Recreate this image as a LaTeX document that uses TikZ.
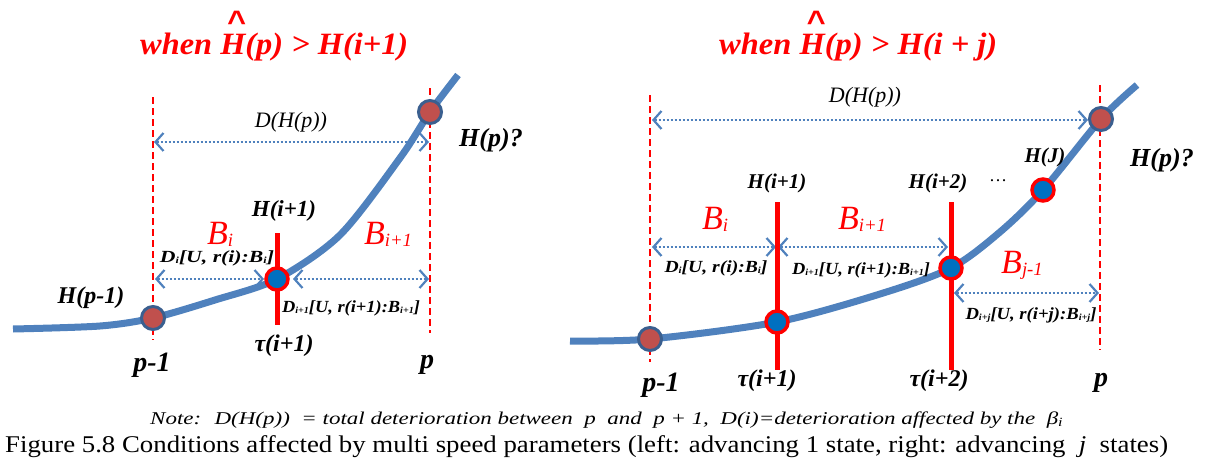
\documentclass[tikz,border=0pt]{standalone}
\usepackage{fontspec}
\setmainfont{Liberation Serif}
\newfontfamily\arialf{Liberation Sans}
\usepackage{graphicx}
\usetikzlibrary{arrows.meta}
\definecolor{cblue}{HTML}{4F81BD}
\definecolor{dotred}{HTML}{C0504D}
\definecolor{dotrim}{HTML}{3A5F8F}
\definecolor{dotblue}{HTML}{0070C0}
\newcommand{\fs}[1]{\fontsize{#1}{#1}\selectfont}
\newcommand{\wbox}[2]{\resizebox{#1}{\height}{#2}}
\newcommand{\sbs}[1]{\raisebox{-0.06em}{\scalebox{0.55}{#1}}}
% H with a high caret above it (caret smashed so it does not enlarge the box)
\newcommand{\hatH}{\rlap{\hspace{0.2em}\smash{\raisebox{0.7em}{\arialf\bfseries\textasciicircum}}}H}
\tikzset{
  curve/.style={cblue, line width=7pt, line cap=butt},
  rdot/.style={circle, fill=dotred, draw=dotrim, line width=3pt, minimum size=23pt, inner sep=0},
  bdot/.style={circle, fill=dotblue, draw=red, line width=3.5pt, minimum size=22pt, inner sep=0},
  vdash/.style={red, line width=2pt, dash pattern=on 7pt off 4pt},
  vsolid/.style={red, line width=5pt},
  barb/.tip={Straight Barb[length=8pt,width=18pt,line width=2.2pt]},
  darr/.style={cblue, line width=2.7pt, dash pattern=on 2.2pt off 1.8pt, barb-barb},
  ttl/.style={inner sep=0, text=red, font=\fs{31}\bfseries\itshape, anchor=west},
  blbl/.style={inner sep=0, text=red, font=\fs{34}\itshape},
  dtxt/.style={inner sep=0, font=\fs{17}\bfseries\itshape},
  bi/.style={inner sep=0, font=\bfseries\itshape},
}
\begin{document}
\begin{tikzpicture}[x=1pt,y=-1pt]
\useasboundingbox (0,0) rectangle (1213,463);

% ---------------- LEFT PANEL ----------------
\node[ttl] (Lttl) at (140,47) {\wbox{268pt}{when \hatH(p) > H(i+1)}};

\coordinate (Ld1t) at (153,97);  \coordinate (Ld1b) at (153,340);
\coordinate (Ld2t) at (430,88);  \coordinate (Ld2b) at (430,333);
\draw[vdash] (Ld1t) -- (Ld1b);
\draw[vdash] (Ld2t) -- (Ld2b);

\coordinate (La1l) at (154,142); \coordinate (La1r) at (429,142);
\coordinate (La2l) at (155,279); \coordinate (La2r) at (264,279);
\coordinate (La3l) at (293,279); \coordinate (La3r) at (429,279);
\draw[darr] (La1l) -- (La1r);
\draw[darr] (La2l) -- (La2r);
\draw[darr] (La3l) -- (La3r);

\draw[curve] plot[smooth, tension=0.5] coordinates {(13,329) (100,326) (153,318) (215,300) (277,279) (340,235) (400,158) (430,112) (458,75)};

\coordinate (Ls1t) at (277,233); \coordinate (Ls1b) at (277,325);
\draw[vsolid] (Ls1t) -- (Ls1b);

\node[rdot] (Lpm) at (153,318) {};
\node[bdot] (Lt1) at (277,279) {};
\node[rdot] (LHp) at (430,112) {};

\node[inner sep=0, font=\fs{22}\itshape] (LD) at (291,122) {D(H(p))};
\node[bi, font=\fs{26}\bfseries\itshape] (LHq) at (491,140) {H(p)?};
\node[bi, font=\fs{23}\bfseries\itshape] (LHi1) at (284,211) {H(i+1)};
\node[blbl] (LBi) at (220,234) {B\sbs{i}};
\node[blbl] (LBi1) at (388,234) {B\sbs{i+1}};
\node[dtxt] (LDi) at (217,258) {\wbox{114pt}{D\sbs{i}[U, r(i):B\sbs{i}]}};
\node[dtxt] (LDi1) at (351,308) {\wbox{138pt}{D\sbs{i+1}[U, r(i+1):B\sbs{i+1}]}};
\node[bi, font=\fs{24}\bfseries\itshape] (LHpm) at (91,298) {H(p-1)};
\node[bi, font=\fs{24}\bfseries\itshape] (Ltau) at (284,346) {τ(i+1)};
\node[bi, font=\fs{28}\bfseries\itshape] (Lpm1) at (152,365) {p-1};
\node[bi, font=\fs{28}\bfseries\itshape] (Lp) at (427,365) {p};

% ---------------- RIGHT PANEL ----------------
\node[ttl] (Rttl) at (719,47) {\wbox{278pt}{when \hatH(p) > H(i + j)}};

\coordinate (Rd1t) at (650,95);  \coordinate (Rd1b) at (650,362);
\coordinate (Rd2t) at (1100,85); \coordinate (Rd2b) at (1100,350);
\draw[vdash] (Rd1t) -- (Rd1b);
\draw[vdash] (Rd2t) -- (Rd2b);

\coordinate (Ra1l) at (652,120); \coordinate (Ra1r) at (1088,120);
\coordinate (Ra2l) at (652,247); \coordinate (Ra2r) at (776,247);
\coordinate (Ra3l) at (778,247); \coordinate (Ra3r) at (948,247);
\coordinate (Ra4l) at (954,293); \coordinate (Ra4r) at (1099,293);
\draw[darr] (Ra1l) -- (Ra1r);
\draw[darr] (Ra2l) -- (Ra2r);
\draw[darr] (Ra3l) -- (Ra3r);
\draw[darr] (Ra4l) -- (Ra4r);

\draw[curve] plot[smooth, tension=0.5] coordinates {(570,341) (650,339) (777,322) (880,294) (951,268) (1000,232) (1043,190) (1101,119) (1137,85)};

\coordinate (Rs1t) at (777,202); \coordinate (Rs1b) at (777,370);
\coordinate (Rs2t) at (951,202); \coordinate (Rs2b) at (951,370);
\draw[vsolid] (Rs1t) -- (Rs1b);
\draw[vsolid] (Rs2t) -- (Rs2b);

\node[rdot] (Rpm) at (650,339) {};
\node[bdot] (Rt1) at (777,322) {};
\node[bdot] (Rt2) at (951,268) {};
\node[bdot] (RHJ) at (1043,190) {};
\node[rdot] (RHp) at (1101,119) {};

\node[inner sep=0, font=\fs{22}\itshape] (RD) at (865,97) {D(H(p))};
\node[bi, font=\fs{26}\bfseries\itshape] (RHq) at (1162,160) {H(p)?};
\node[bi, font=\fs{21}\bfseries\itshape] (RHJl) at (1045,157) {H(J)};
\node[bi, font=\fs{21}\bfseries\itshape] (RHi1) at (777,183) {H(i+1)};
\node[bi, font=\fs{21}\bfseries\itshape] (RHi2) at (938,183) {H(i+2)};
\node[inner sep=0, font=\fs{18}] (Rdots) at (998,181) {…};
\node[blbl] (RBi) at (715,219) {B\sbs{i}};
\node[blbl] (RBi1) at (862,219) {B\sbs{i+1}};
\node[blbl] (RBj) at (1022,265) {B\sbs{j-1}};
\node[dtxt] (RDi) at (716,268) {\wbox{103pt}{D\sbs{i}[U, r(i):B\sbs{i}]}};
\node[dtxt] (RDi1) at (861,270) {\wbox{138pt}{D\sbs{i+1}[U, r(i+1):B\sbs{i+1}]}};
\node[dtxt] (RDij) at (1031,315) {\wbox{131pt}{D\sbs{i+j}[U, r(i+j):B\sbs{i+j}]}};
\node[bi, font=\fs{24}\bfseries\itshape] (Rtau1) at (767,381) {τ(i+1)};
\node[bi, font=\fs{24}\bfseries\itshape] (Rtau2) at (939,381) {τ(i+2)};
\node[bi, font=\fs{28}\bfseries\itshape] (Rpm1) at (661,385) {p-1};
\node[bi, font=\fs{28}\bfseries\itshape] (Rp) at (1101,383) {p};

% ---------------- CAPTIONS ----------------
\node[inner sep=0, font=\fs{18}\itshape, anchor=west] (note) at (150,420) {\wbox{913pt}{Note:~ D(H(p))~ = total deterioration between~ p~ and~ p + 1,~ D(i)=deterioration affected by the~ β\textsubscript{i}}};
\node[inner sep=0, font=\fs{24}, anchor=west] (cap) at (5,447) {\wbox{1163pt}{Figure 5.8 Conditions affected by multi speed parameters (left: advancing 1 state, right: advancing~ \textit{j}~ states)}};
\end{tikzpicture}
\end{document}
